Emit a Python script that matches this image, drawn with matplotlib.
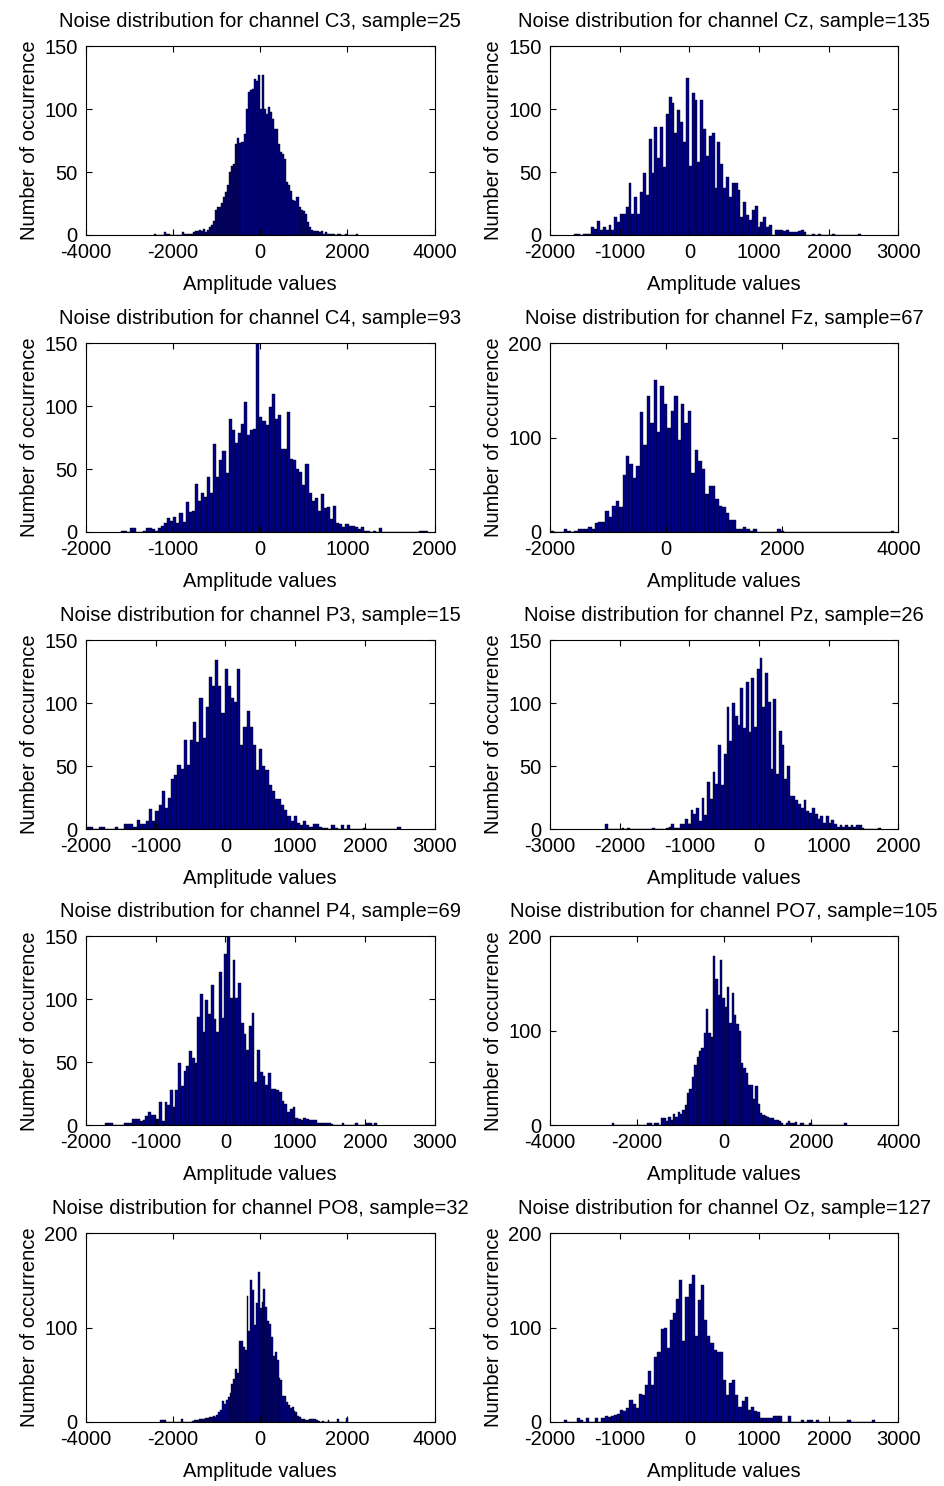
import matplotlib
matplotlib.use("Agg")
import matplotlib.pyplot as plt
import numpy as np

# bin counts (100 bins spanning data min..max)
counts_C3 = [1, 0, 0, 0, 0, 2, 1, 1, 0, 0, 0, 0, 0, 0, 2, 1, 1, 1, 1, 2,
             3, 3, 4, 3, 5, 2, 4, 6, 8, 11, 20, 22, 22, 25, 30, 34, 40, 50, 55, 56,
             72, 77, 73, 74, 80, 100, 114, 115, 116, 124, 122, 127, 100, 127, 100, 96, 102, 98, 92, 84,
             84, 72, 66, 64, 60, 42, 40, 35, 28, 27, 30, 22, 20, 19, 17, 10, 6, 4, 3, 3,
             3, 2, 3, 1, 2, 1, 1, 1, 1, 0, 1, 1, 0, 0, 1, 0, 0, 0, 0, 1]
counts_Cz = [1, 1, 0, 1, 1, 1, 6, 5, 11, 4, 6, 4, 8, 4, 14, 10, 17, 17, 22, 41,
             17, 30, 17, 34, 49, 32, 76, 49, 86, 61, 86, 54, 96, 110, 105, 81, 99, 90, 74, 125,
             55, 113, 107, 58, 107, 84, 63, 79, 81, 37, 74, 56, 37, 46, 30, 41, 41, 36, 14, 26,
             16, 12, 20, 23, 6, 10, 14, 6, 8, 0, 4, 4, 4, 3, 4, 2, 2, 2, 3, 4,
             2, 0, 0, 1, 0, 1, 0, 0, 0, 0, 1, 0, 0, 0, 0, 0, 0, 0, 0, 1]
counts_C4 = [1, 1, 0, 3, 3, 0, 0, 1, 3, 3, 2, 1, 3, 5, 7, 11, 9, 12, 7, 15,
             8, 24, 16, 17, 38, 25, 31, 28, 44, 31, 70, 44, 57, 64, 47, 90, 81, 71, 79, 86,
             103, 77, 81, 82, 150, 91, 88, 85, 99, 110, 90, 93, 66, 66, 95, 58, 57, 50, 48, 37,
             54, 31, 25, 27, 17, 30, 19, 20, 10, 21, 7, 6, 4, 6, 5, 5, 4, 2, 4, 1,
             1, 0, 1, 0, 3, 0, 0, 0, 0, 0, 0, 0, 0, 0, 0, 0, 0, 1, 1, 1]
counts_Fz = [1, 0, 0, 0, 3, 1, 0, 1, 3, 3, 3, 5, 3, 9, 11, 11, 22, 16, 28, 33,
             27, 60, 80, 72, 57, 70, 127, 92, 144, 116, 161, 106, 155, 136, 110, 128, 144, 97, 136, 116,
             128, 62, 87, 75, 67, 40, 49, 49, 35, 28, 27, 20, 13, 13, 3, 3, 5, 3, 1, 3,
             0, 0, 0, 0, 0, 0, 3, 1, 0, 0, 0, 0, 0, 0, 0, 0, 0, 0, 0, 0,
             0, 0, 0, 0, 0, 0, 0, 0, 0, 0, 0, 0, 0, 0, 0, 0, 0, 0, 0, 1]
counts_P3 = [2, 2, 0, 0, 2, 2, 0, 0, 0, 2, 0, 0, 4, 4, 4, 2, 7, 4, 4, 6,
             16, 6, 14, 19, 30, 17, 25, 40, 43, 51, 48, 71, 51, 71, 85, 69, 104, 72, 97, 121,
             114, 134, 114, 92, 127, 114, 104, 101, 127, 67, 81, 94, 81, 67, 47, 64, 50, 47, 35, 30,
             24, 24, 19, 15, 10, 6, 10, 5, 3, 6, 3, 2, 4, 4, 2, 1, 1, 0, 3, 1,
             0, 3, 0, 3, 0, 0, 0, 0, 1, 0, 0, 0, 0, 0, 0, 0, 0, 0, 0, 2]
counts_Pz = [4, 0, 0, 0, 0, 0, 1, 0, 1, 0, 0, 0, 0, 0, 0, 0, 0, 1, 0, 0,
             0, 0, 1, 2, 4, 1, 1, 4, 4, 8, 4, 15, 12, 17, 6, 25, 11, 37, 24, 45,
             36, 67, 35, 60, 97, 70, 100, 90, 83, 112, 80, 117, 77, 120, 81, 127, 136, 97, 124, 101,
             48, 103, 44, 78, 67, 40, 50, 26, 26, 23, 20, 17, 23, 14, 13, 17, 12, 8, 10, 5,
             10, 5, 7, 4, 2, 3, 2, 3, 2, 3, 2, 3, 3, 1, 0, 0, 0, 0, 0, 1]
counts_P4 = [2, 2, 2, 0, 0, 0, 0, 2, 2, 2, 5, 5, 5, 3, 4, 7, 10, 8, 8, 5,
             18, 3, 18, 16, 28, 14, 28, 49, 31, 43, 47, 59, 53, 49, 86, 104, 74, 99, 88, 111,
             84, 74, 122, 85, 136, 150, 101, 131, 101, 113, 81, 72, 60, 79, 89, 34, 60, 42, 39, 32,
             41, 29, 29, 28, 26, 19, 17, 10, 13, 14, 6, 5, 4, 6, 5, 4, 4, 4, 2, 2,
             2, 2, 2, 1, 0, 0, 0, 2, 0, 0, 0, 0, 2, 0, 0, 0, 2, 2, 0, 2]
counts_PO7 = [2, 0, 0, 0, 0, 0, 0, 0, 0, 0, 0, 0, 0, 0, 0, 2, 2, 0, 2, 2,
              0, 7, 7, 4, 9, 5, 12, 9, 14, 12, 16, 21, 34, 38, 51, 64, 72, 79, 82, 98,
              123, 98, 93, 179, 155, 138, 175, 135, 125, 146, 108, 140, 117, 107, 100, 66, 60, 55, 42, 42,
              28, 41, 22, 13, 11, 10, 9, 7, 7, 5, 5, 4, 2, 0, 2, 4, 2, 2, 3, 0,
              2, 2, 0, 0, 2, 0, 0, 0, 0, 0, 0, 0, 0, 0, 0, 0, 0, 0, 0, 2]
counts_PO8 = [2, 2, 2, 0, 0, 0, 0, 0, 0, 0, 0, 3, 0, 0, 0, 0, 0, 1, 2, 2,
              2, 3, 3, 3, 4, 4, 5, 5, 6, 5, 7, 11, 13, 22, 19, 23, 26, 31, 40, 46,
              56, 52, 86, 86, 79, 76, 133, 96, 150, 140, 103, 126, 159, 121, 127, 141, 122, 107, 104, 90,
              70, 74, 66, 47, 44, 28, 27, 21, 18, 15, 16, 12, 11, 6, 5, 3, 3, 2, 2, 3,
              3, 3, 3, 2, 1, 0, 1, 0, 0, 2, 0, 0, 0, 0, 3, 0, 0, 0, 0, 4]
counts_Oz = [2, 0, 0, 0, 4, 2, 0, 4, 0, 0, 4, 0, 4, 6, 5, 6, 7, 8, 13, 12,
             15, 23, 19, 15, 30, 29, 39, 54, 39, 69, 74, 98, 100, 78, 108, 115, 130, 150, 86, 132,
             146, 156, 91, 129, 145, 108, 91, 84, 76, 74, 74, 44, 29, 41, 44, 29, 16, 22, 26, 13,
             16, 12, 11, 4, 4, 4, 4, 6, 6, 6, 0, 0, 6, 0, 0, 0, 2, 0, 2, 2,
             0, 2, 0, 0, 0, 0, 0, 0, 0, 0, 0, 2, 0, 0, 0, 0, 0, 0, 0, 2]

channels = ["C3", "Cz", "C4", "Fz", "P3", "Pz", "P4", "PO7", "PO8", "Oz"]
samples = [25, 135, 93, 67, 15, 26, 69, 105, 32, 127]
all_counts = [counts_C3, counts_Cz, counts_C4, counts_Fz, counts_P3,
              counts_Pz, counts_P4, counts_PO7, counts_PO8, counts_Oz]
# data range (min, max) of each channel
data_min = [-2442, -1654, -1598, -1995, -1995, -2208, -1733, -2575, -2303, -1798]
data_max = [2234, 2460, 1930, 3930, 2512, 1748, 2175, 2811, 2019, 2669]
x_limits = [(-4000, 4000), (-2000, 3000), (-2000, 2000), (-2000, 4000), (-2000, 3000),
            (-3000, 2000), (-2000, 3000), (-4000, 4000), (-4000, 4000), (-2000, 3000)]
x_steps = [2000, 1000, 1000, 2000, 1000, 1000, 1000, 2000, 2000, 1000]
y_tops = [150, 150, 150, 200, 150, 150, 150, 200, 200, 200]
y_steps = [50, 50, 50, 100, 50, 50, 50, 100, 100, 100]

plt.rcParams['font.family'] = ['Liberation Sans', 'DejaVu Sans']
plt.rcParams['font.size'] = 14.5
plt.rcParams['axes.unicode_minus'] = False

fig = plt.figure(figsize=(9.44, 14.86), dpi=100)

lefts = [0.0911, 0.5826]
bottoms = [0.8419, 0.6420, 0.4421, 0.2429, 0.0431]
w, h = 0.3692, 0.127

for i, counts in enumerate(all_counts):
    ax = fig.add_axes([lefts[i % 2], bottoms[i // 2], w, h])
    edges = np.linspace(data_min[i], data_max[i], len(counts) + 1)
    ax.bar(edges[:-1], counts, width=np.diff(edges), align='edge',
           color='#00008F', edgecolor='black', linewidth=0.3)
    x0, x1 = x_limits[i]
    ax.set_xlim(x0, x1)
    ax.set_ylim(0, y_tops[i])
    ax.set_xticks(np.arange(x0, x1 + 1, x_steps[i]))
    ax.set_yticks(np.arange(0, y_tops[i] + 1, y_steps[i]))
    ax.tick_params(direction='in', top=True, right=True, length=4, width=0.8)
    ax.tick_params(axis='x', pad=6)
    ax.tick_params(axis='y', pad=6)
    for s in ax.spines.values():
        s.set_linewidth(0.8)
    ax.set_title(f"Noise distribution for channel {channels[i]}, sample={samples[i]}",
                 fontsize=14.5, pad=14)
    ax.set_xlabel("Amplitude values", labelpad=9)
    ax.set_ylabel("Number of occurrence", labelpad=4)

fig.savefig("out.png", dpi=100)
